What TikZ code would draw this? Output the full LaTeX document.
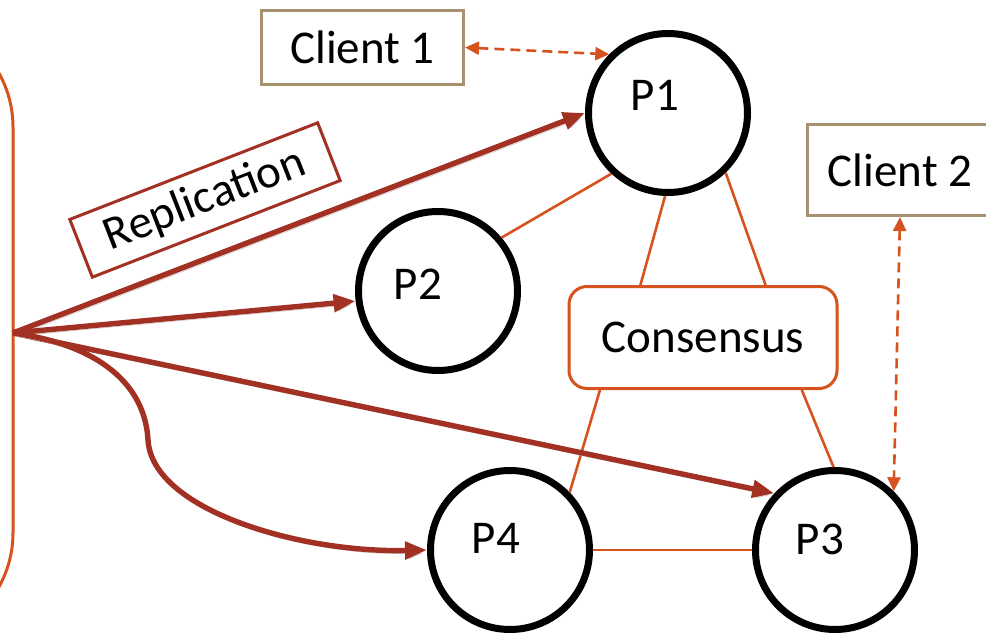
\documentclass[tikz,border=0pt]{standalone}
\usepackage{fontspec}
\setmainfont{Carlito}
\usepackage{xcolor}
\usepackage{tikz}
\usetikzlibrary{shapes,arrows.meta}
\definecolor{consorange}{RGB}{214,82,30}
\definecolor{replred}{RGB}{162,49,36}
\definecolor{clienttan}{RGB}{166,145,112}

\begin{document}
\begin{tikzpicture}[x=0.5pt,y=-0.5pt,
		every node/.style={font=\fontsize{23.5}{28}\selectfont},
		proc/.style={circle,draw,line width=3.5pt,minimum size=79.5pt,inner sep=0pt},
		client/.style={draw=clienttan,line width=1.5pt,minimum height=37pt},
		link/.style={consorange,line width=1.3pt},
		req/.style={consorange,line width=1.3pt,dash pattern=on 5pt off 3pt,{Triangle[length=7pt,width=6.5pt]}-{Triangle[length=7pt,width=6.5pt]}},
		repl/.style={replred,line width=2.7pt,-{Triangle[length=11pt,width=8.5pt]},preaction={draw=black!18,transform canvas={shift={(1pt,-1.5pt)}}}}]
				\clip (0,0) rectangle (986,642);
				% left group border
				\draw[consorange,line width=1.5pt,rounded corners=55pt] (-200,17) -- (13,17) -- (13,643) -- (-200,643);
				\coordinate (fan) at (13,333);
				\node[proc,label={[xshift=-6.5pt,yshift=9pt]center:P1}] (P1) at (668,113) {};
				\node[proc,label={[xshift=-10pt,yshift=3.5pt]center:P2}] (P2) at (438,291) {};
				\node[proc,label={[xshift=-7.5pt,yshift=5.5pt]center:P3}] (P3) at (835,550) {};
				\node[proc,label={[xshift=-7pt,yshift=6pt]center:P4}] (P4) at (510,550) {};
				\node[draw=consorange,line width=1.5pt,rounded corners=9pt,fill=white,minimum width=134pt,minimum height=51pt] (cons) at (703,337.5) {Consensus};
				\node[client,minimum width=101pt] (c1) at (362.5,47.5) {Client 1};
				\node[client,minimum width=93pt,minimum height=45.5pt] (c2) at (900,170) {Client 2};
				% consensus links
				\draw[link] (P1.227) -- (P2.40);
				\draw[link] (P1.268) -- (cons.140);
				\draw[link] (P1.314) -- (cons.40);
				\draw[link] (cons.207.7) -- (P4.44.5);
				\draw[link] (cons.332.8) -- (P3.91);
				\draw[link] (P4) -- (P3);
				% client requests
				\draw[req] (c1.east) -- (P1.135);
				\draw[req] (c2.south) -- (P3.45.5);
				% replication
				\draw[repl] (fan) -- (P1.west);
				\draw[repl] (fan) -- (P2.187);
				\draw[repl] (fan) -- (P3.137);
				\draw[repl] (fan) .. controls (100,345) and (145,385) .. (148,440) .. controls (152,510) and (300,553) .. (P4.west);
				\node[draw=replred,line width=1.5pt,fill=white,rotate=21.3,minimum width=133pt,minimum height=31pt,inner sep=0pt] (repbox) at (205,200) {Replication};
			\end{tikzpicture}
\end{document}
